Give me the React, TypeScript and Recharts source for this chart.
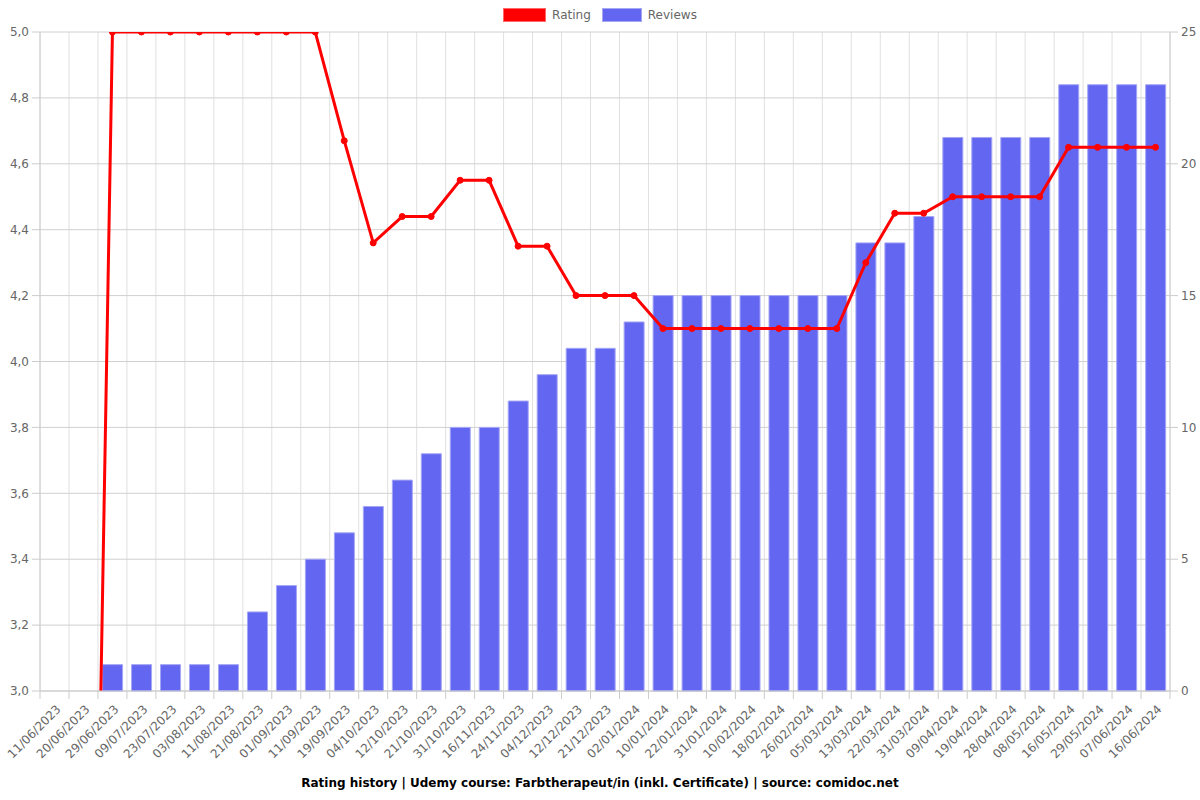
import React from "react";
import {
  ComposedChart,
  Bar,
  Line,
  XAxis,
  YAxis,
  CartesianGrid,
} from "recharts";

const dates = [
  "11/06/2023", "20/06/2023", "29/06/2023", "09/07/2023", "23/07/2023", "03/08/2023",
  "11/08/2023", "21/08/2023", "01/09/2023", "11/09/2023", "19/09/2023", "04/10/2023",
  "12/10/2023", "21/10/2023", "31/10/2023", "16/11/2023", "24/11/2023", "04/12/2023",
  "12/12/2023", "21/12/2023", "02/01/2024", "10/01/2024", "22/01/2024", "31/01/2024",
  "10/02/2024", "18/02/2024", "26/02/2024", "05/03/2024", "13/03/2024", "22/03/2024",
  "31/03/2024", "09/04/2024", "19/04/2024", "28/04/2024", "08/05/2024", "16/05/2024",
  "29/05/2024", "07/06/2024", "16/06/2024",
];

const ratings = [
  0, 0, 5, 5, 5, 5, 5, 5, 5, 5, 4.67, 4.36, 4.44, 4.44, 4.55, 4.55, 4.35, 4.35,
  4.2, 4.2, 4.2, 4.1, 4.1, 4.1, 4.1, 4.1, 4.1, 4.1, 4.3, 4.45, 4.45, 4.5, 4.5,
  4.5, 4.5, 4.65, 4.65, 4.65, 4.65,
];

const reviews = [
  0, 0, 1, 1, 1, 1, 1, 3, 4, 5, 6, 7, 8, 9, 10, 10, 11, 12, 13, 13, 14, 15, 15,
  15, 15, 15, 15, 15, 17, 17, 18, 21, 21, 21, 21, 23, 23, 23, 23,
];

const ratingTicks = [3.0, 3.2, 3.4, 3.6, 3.8, 4.0, 4.2, 4.4, 4.6, 4.8, 5.0];
const reviewTicks = [0, 5, 10, 15, 20, 25];

const title =
  "Rating history | Udemy course: Farbtherapeut/in (inkl. Certificate) | source: comidoc.net";

const data = dates.map((d, i) => ({
  date: d,
  rating: ratings[i],
  reviews: reviews[i],
}));

const FONT = "DejaVu Sans, sans-serif";
const CHART_W = 1200;
const CHART_H = 800;
const MARGIN = { top: 32, right: 0, bottom: 29, left: 0 };
const LEFT_W = 40;
const RIGHT_W = 30;
const PLOT_W = CHART_W - LEFT_W - RIGHT_W - MARGIN.left - MARGIN.right;
const BAND = PLOT_W / dates.length;

const XTick = (props: any) => {
  const { x, y, payload, index } = props;
  const left = x - BAND / 2;
  const right = x + BAND / 2;
  const tx = x + 7;
  const ty = y + 19;
  return (
    <g>
      <line x1={left} y1={y} x2={left} y2={y + 8} stroke="#ccc" />
      {index === dates.length - 1 && (
        <line x1={right} y1={y} x2={right} y2={y + 8} stroke="#ccc" />
      )}
      <text
        x={tx}
        y={ty}
        textAnchor="end"
        fill="#666"
        fontSize={12}
        fontFamily={FONT}
        transform={`rotate(-45, ${tx}, ${ty})`}
      >
        {payload.value}
      </text>
    </g>
  );
};

const LegendBox = () => (
  <div
    style={{
      position: "absolute",
      left: 0,
      top: 8,
      width: CHART_W,
      display: "flex",
      justifyContent: "center",
      alignItems: "center",
      fontFamily: FONT,
      fontSize: 12,
      color: "#666",
      lineHeight: "14px",
    }}
  >
    <span
      style={{
        display: "inline-block",
        width: 43,
        height: 14,
        background: "#ff0000",
        border: "1px solid #ff6666",
        boxSizing: "border-box",
        marginRight: 6,
      }}
    />
    <span style={{ marginRight: 11 }}>Rating</span>
    <span
      style={{
        display: "inline-block",
        width: 40,
        height: 14,
        background: "#6366f1",
        border: "1px solid #a5a7f5",
        boxSizing: "border-box",
        marginRight: 6,
      }}
    />
    <span>Reviews</span>
  </div>
);

export default function App() {
  return (
    <div
      style={{
        position: "absolute",
        left: 0,
        top: 0,
        width: CHART_W,
        height: CHART_H,
        background: "#fff",
      }}
    >
      <ComposedChart
        width={CHART_W}
        height={CHART_H}
        data={data}
        margin={MARGIN}
        barCategoryGap="16%"
      >
        <CartesianGrid
          stroke="#e0e0e0"
          horizontal={false}
          verticalCoordinatesGenerator={({ offset }: any) =>
            dates.map((_, i) => offset.left + i * (offset.width / dates.length)).concat([
              offset.left + offset.width,
            ])
          }
        />
        <CartesianGrid
          stroke="#d0d0d0"
          vertical={false}
          yAxisId="left"
          syncWithTicks
        />
        <XAxis
          dataKey="date"
          interval={0}
          height={80}
          tickLine={false}
          tickSize={0}
          tickMargin={0}
          axisLine={{ stroke: "#ccc" }}
          tick={<XTick />}
        />
        <YAxis
          yAxisId="left"
          orientation="left"
          width={LEFT_W}
          domain={[3, 5]}
          ticks={ratingTicks}
          allowDataOverflow
          interval={0}
          tickSize={8}
          tickMargin={3}
          tickLine={{ stroke: "#ccc" }}
          axisLine={{ stroke: "#ccc" }}
          tickFormatter={(v: number) => v.toFixed(1).replace(".", ",")}
          tick={{ fill: "#666", fontSize: 12, fontFamily: FONT }}
        />
        <YAxis
          yAxisId="right"
          orientation="right"
          width={RIGHT_W}
          domain={[0, 25]}
          ticks={reviewTicks}
          interval={0}
          tickSize={8}
          tickMargin={3}
          tickLine={{ stroke: "#ccc" }}
          axisLine={{ stroke: "#ccc" }}
          tick={{ fill: "#666", fontSize: 12, fontFamily: FONT }}
        />
        <Bar
          yAxisId="right"
          dataKey="reviews"
          name="Reviews"
          fill="#6366f1"
          stroke="#a5a7f5"
          strokeWidth={1}
          isAnimationActive={false}
        />
        <Line
          yAxisId="left"
          dataKey="rating"
          name="Rating"
          type="linear"
          stroke="#ff0000"
          strokeWidth={3}
          dot={{ r: 3, fill: "#ff0000", stroke: "#ff0000", strokeWidth: 1 }}
          activeDot={false}
          isAnimationActive={false}
        />
      </ComposedChart>
      <LegendBox />
      <div
        style={{
          position: "absolute",
          left: 0,
          top: 776,
          width: CHART_W,
          textAlign: "center",
          fontFamily: FONT,
          fontSize: 12,
          fontWeight: "bold",
          color: "#000",
        }}
      >
        {title}
      </div>
    </div>
  );
}
